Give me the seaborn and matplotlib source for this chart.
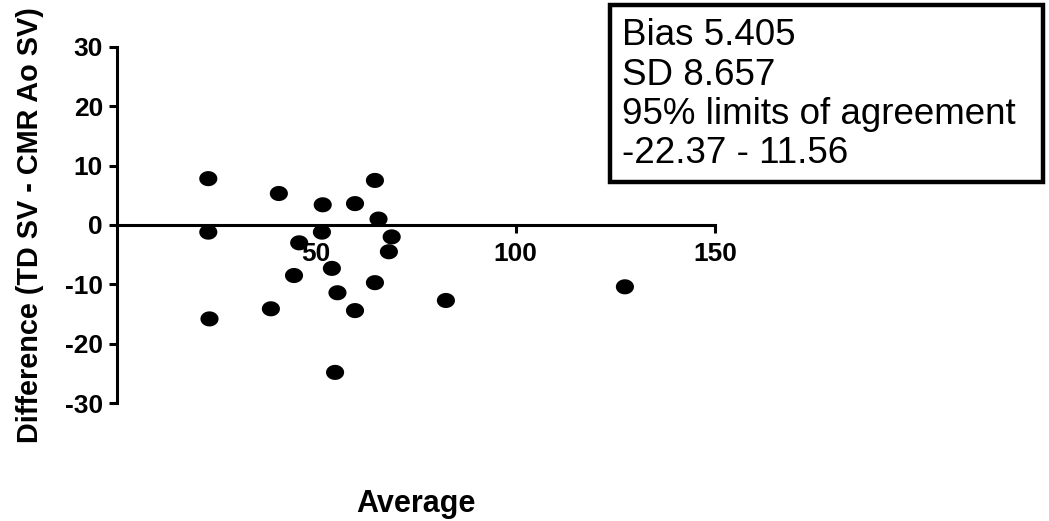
import numpy as np
import pandas as pd
import seaborn as sns
import matplotlib
matplotlib.use("Agg")
import matplotlib.pyplot as plt
from matplotlib.path import Path
from matplotlib.patches import Rectangle

# ---- data ----
average = [22.9, 22.9, 23.2, 40.6, 38.6, 45.7, 44.4, 51.6, 51.4, 53.9, 55.3,
           54.7, 59.7, 59.7, 64.7, 65.6, 64.7, 68.9, 68.2, 82.5, 127.4]
difference = [7.8, -1.2, -15.8, 5.3, -14.1, -3.0, -8.5, 3.4, -1.2, -7.3, -11.4,
              -24.8, 3.6, -14.4, 7.5, 1.0, -9.7, -2.0, -4.5, -12.7, -10.4]
x_ticks = [50, 100, 150]
y_ticks = [-30, -20, -10, 0, 10, 20, 30]
stats_lines = ["Bias 5.405", "SD 8.657", "95% limits of agreement", "-22.37 - 11.56"]
x_label = "Average"
y_label = "Difference (TD SV - CMR Ao SV)"

df = pd.DataFrame({"Average": average, "Difference": difference})

sns.set_theme(style="ticks")
plt.rcParams['font.family'] = ['Liberation Sans', 'DejaVu Sans']
plt.rcParams['text.color'] = 'black'
plt.rcParams['axes.labelcolor'] = 'black'

W, H = 1049, 521
fig = plt.figure(figsize=(W / 100, H / 100), dpi=100)
ax = fig.add_axes([117 / W, 1 - 403.3 / H, (715 - 117) / W, (403.3 - 46.7) / H])

# slightly wide elliptical dot (reference is horizontally stretched)
t = np.linspace(0, 2 * np.pi, 60)
ell = Path(np.column_stack([0.6 * np.cos(t), 0.5 * np.sin(t)]), closed=True)

sns.scatterplot(data=df, x="Average", y="Difference", ax=ax, marker=ell,
                s=170, color="black", edgecolor="none", linewidth=0,
                clip_on=False, legend=False)

ax.set_xlim(0, 150)
ax.set_ylim(-30, 30)
ax.set_xticks(x_ticks)
ax.set_yticks(y_ticks)
ax.set_xticklabels([str(v) for v in x_ticks])
ax.set_yticklabels([str(v) for v in y_ticks])

lw = 2.2
for s in ["top", "right"]:
    ax.spines[s].set_visible(False)
ax.spines["bottom"].set_position(("data", 0))
ax.spines["left"].set_linewidth(lw)
ax.spines["bottom"].set_linewidth(lw)
ax.spines["left"].set_color("black")
ax.spines["bottom"].set_color("black")

ax.tick_params(axis="y", direction="out", length=6, width=lw, pad=4,
               labelsize=19, colors="black")
ax.tick_params(axis="x", direction="out", length=5.5, width=lw, pad=7,
               labelsize=19, colors="black")
for lab in ax.get_xticklabels() + ax.get_yticklabels():
    lab.set_fontweight("bold")

ax.set_xlabel(x_label, fontsize=22, fontweight="bold", color="black")
ax.set_ylabel(y_label, fontsize=20.8, fontweight="bold", color="black")
ax.xaxis.set_label_coords(0.5, (403.3 - 489) / 356.6)
ax.xaxis.label.set_va("top")
ax.yaxis.set_label_coords((30 - 117) / 598, 0.5)
ax.yaxis.label.set_va("center")

# statistics box
bx0, bx1, by0, by1 = 610, 1043, 5, 182
fig.patches.append(Rectangle((bx0 / W, 1 - by1 / H), (bx1 - bx0) / W, (by1 - by0) / H,
                             transform=fig.transFigure, fill=False,
                             edgecolor="black", linewidth=3.2))
baselines = [45, 85, 124, 163]
for line, b in zip(stats_lines, baselines):
    fig.text(622 / W, 1 - b / H, line, fontsize=26.5, ha="left", va="baseline",
             color="black")

fig.savefig("out.png", dpi=100, facecolor="white")
